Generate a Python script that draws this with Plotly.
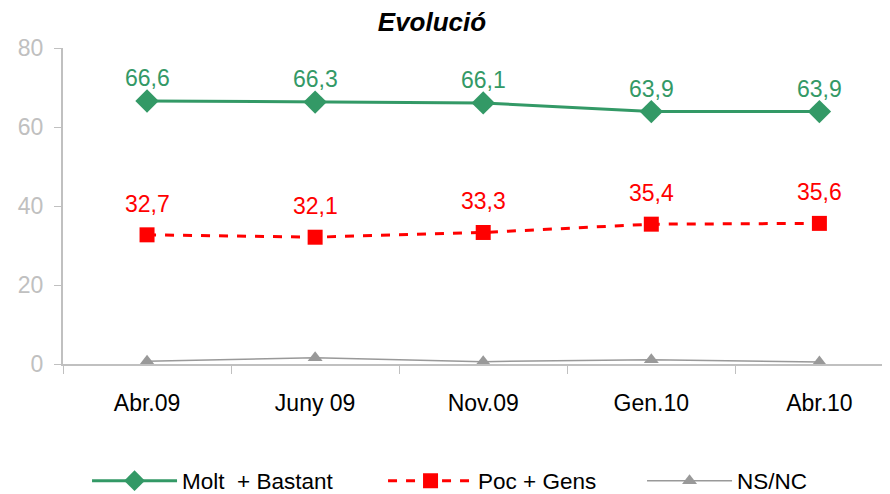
import plotly.graph_objects as go

categories = ["Abr.09", "Juny 09", "Nov.09", "Gen.10", "Abr.10"]
molt_bastant = [66.6, 66.3, 66.1, 63.9, 63.9]
poc_gens = [32.7, 32.1, 33.3, 35.4, 35.6]
ns_nc = [0.7, 1.6, 0.6, 1.1, 0.5]
y_ticks = [0, 20, 40, 60, 80]

GREEN = "#339966"
RED = "#ff0000"
GRAY = "#999999"
AXIS = "#c0c0c0"

# page has an 8px body margin; figure is sized to fill the rest of the window
W, H = 882, 486
L, T, B = 55, 40, 130
PW, PH = W - L, H - T - B

def px_x(page_x):
    return (page_x - 8 - L) / PW

fig = go.Figure()
fig.add_trace(go.Scatter(x=categories, y=molt_bastant, name="Molt  + Bastant",
                         mode="lines+markers", legend="legend",
                         line=dict(color=GREEN, width=3),
                         marker=dict(symbol="diamond", size=18, color=GREEN)))
fig.add_trace(go.Scatter(x=categories, y=poc_gens, name="Poc + Gens",
                         mode="lines+markers", legend="legend2",
                         line=dict(color=RED, width=3, dash="dash"),
                         marker=dict(symbol="square", size=15, color=RED)))
fig.add_trace(go.Scatter(x=categories, y=ns_nc, name="NS/NC",
                         mode="lines+markers", legend="legend3",
                         line=dict(color=GRAY, width=1.5),
                         marker=dict(symbol="triangle-up", size=13, color=GRAY)))

def fmt(v):
    return f"{v:.1f}".replace(".", ",")

for c, v in zip(categories, molt_bastant):
    fig.add_annotation(x=c, y=v, text=fmt(v), showarrow=False, yshift=23,
                       font=dict(color=GREEN, size=23, family="Liberation Sans"))
for c, v in zip(categories, poc_gens):
    fig.add_annotation(x=c, y=v, text=fmt(v), showarrow=False, yshift=31,
                       font=dict(color=RED, size=23, family="Liberation Sans"))

leg_common = dict(orientation="h", xanchor="left", y=-(481 - 8 - (H - B)) / PH, yanchor="middle",
                  font=dict(family="Liberation Sans", size=22.5, color="black"),
                  itemwidth=85, bgcolor="rgba(0,0,0,0)")

fig.update_layout(
    width=W, height=H,
    margin=dict(l=L, r=0, t=T, b=B, autoexpand=False),
    paper_bgcolor="white", plot_bgcolor="white",
    title=dict(text="<b><i>Evolució</i></b>", x=(432 - 8) / W, xanchor="center",
               y=1 - 14 / H, yanchor="middle",
               font=dict(family="Liberation Sans", size=26, color="black")),
    showlegend=True,
    legend=dict(x=px_x(92) - 0.006, **leg_common),
    legend2=dict(x=px_x(388) - 0.006, **leg_common),
    legend3=dict(x=px_x(647) - 0.006, **leg_common),
    xaxis=dict(type="category", range=[-0.5, 4.42], showgrid=False, automargin=False,
               showline=True, linecolor=AXIS, linewidth=2,
               ticks="outside", tickson="boundaries", ticklen=8, tickcolor=AXIS,
               tickfont=dict(family="Liberation Sans", size=23, color="black"),
               ticklabelstandoff=17),
    yaxis=dict(range=[0, 80], tickvals=y_ticks, showgrid=False, zeroline=False, automargin=False,
               showline=True, linecolor=AXIS, linewidth=2,
               ticks="outside", ticklen=7, tickcolor=AXIS, ticklabelstandoff=6,
               tickfont=dict(family="Liberation Sans", size=23, color=AXIS)),
)

fig.write_html("out.html")
